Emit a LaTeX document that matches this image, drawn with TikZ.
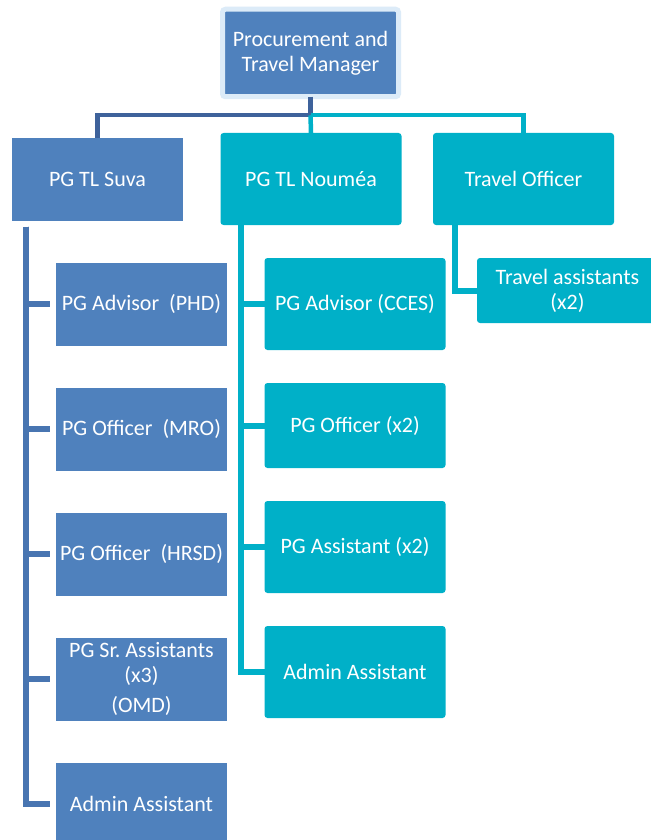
\documentclass[tikz,border=0pt]{standalone}
\usepackage{fontspec}
\setmainfont{Carlito}
\usetikzlibrary{positioning}
\definecolor{boxblue}{RGB}{79,129,189}
\definecolor{boxcyan}{RGB}{0,176,200}
\definecolor{lineblue}{RGB}{62,98,155}
\definecolor{treeblue}{RGB}{72,117,177}
\definecolor{edgeblue}{RGB}{220,235,248}

\begin{document}
\begin{tikzpicture}[
  x=0.5pt, y=-0.5pt,
  bx/.style={inner sep=1pt, outer sep=0pt, align=center, text=white,
             font=\fontsize{11}{12.5}\selectfont},
  sv/.style={bx, fill=boxblue, minimum width=85.5pt, minimum height=41.5pt},
  nm/.style={bx, fill=boxcyan, rounded corners=1.5pt,
             minimum width=90.5pt, minimum height=46pt},
  ln/.style={line width=2.25pt},
  tr/.style={line width=3pt},
  node distance=21pt
]
  \useasboundingbox (0,0) rectangle (650,840);
  \fill[white] (0,0) rectangle (650,840);

  \node[bx, fill=boxblue, draw=edgeblue, line width=2.5pt, rounded corners=1.5pt,
        minimum width=88pt, minimum height=43.75pt] (mgr) at (310.5,53)
        {Procurement and\\Travel Manager};
  \node[sv] (suva) at (97.5,179) {PG TL Suva};
  \node[nm] (nou)  at (311,179)  {PG TL Nouméa};
  \node[nm] (tro)  at (523.5,179) {Travel Officer};
  \node[nm, minimum height=32.5pt] (tas) at (567.5,290.5) {Travel assistants\\(x2)};

  \node[sv, below right=21pt and 22pt of suva.south west] (phd) {PG Advisor~~(PHD)};
  \node[sv, below=of phd]  (mro)  {PG Officer~~(MRO)};
  \node[sv, below=of mro]  (hrsd) {PG Officer~~(HRSD)};
  \node[sv, below=of hrsd] (omd)  {PG Sr.\ Assistants\\(x3)\\[2.5pt](OMD)};
  \node[sv, below=of omd]  (sadm) {Admin Assistant};

  \node[nm, below right=16.5pt and 22pt of nou.south west] (cces) {PG Advisor (CCES)};
  \node[nm, below=16.5pt of cces, minimum height=42.5pt] (nof) {PG Officer (x2)};
  \node[nm, below=16.5pt of nof] (nas)  {PG Assistant (x2)};
  \node[nm, below=16.5pt of nas] (nadm) {Admin Assistant};

  \coordinate (bus) at ([yshift=-9.25pt]mgr.south);
  \draw[ln, lineblue] (mgr.south) -- (bus) -| (suva.north);
  \draw[ln, boxcyan] (bus) -- (nou.north);
  \draw[ln, boxcyan] (bus) -| (tro.north);

  \draw[tr, treeblue, shorten <=3pt, shorten >=3pt] ([xshift=-35.75pt]suva.south) |- (phd.west);
  \draw[tr, treeblue, shorten <=3pt, shorten >=3pt] ([xshift=-35.75pt]suva.south) |- (mro.west);
  \draw[tr, treeblue, shorten <=3pt, shorten >=3pt] ([xshift=-35.75pt]suva.south) |- (hrsd.west);
  \draw[tr, treeblue, shorten <=3pt, shorten >=3pt] ([xshift=-35.75pt]suva.south) |- (omd.west);
  \draw[tr, treeblue, shorten <=3pt, shorten >=3pt] ([xshift=-35.75pt]suva.south) |- (sadm.west);

  \draw[tr, boxcyan] ([xshift=10pt]nou.south west) |- (cces.west);
  \draw[tr, boxcyan] ([xshift=10pt]nou.south west) |- (nof.west);
  \draw[tr, boxcyan] ([xshift=10pt]nou.south west) |- (nas.west);
  \draw[tr, boxcyan] ([xshift=10pt]nou.south west) |- (nadm.west);

  \draw[tr, boxcyan] ([xshift=11pt]tro.south west) |- (tas.west);
\end{tikzpicture}
\end{document}
